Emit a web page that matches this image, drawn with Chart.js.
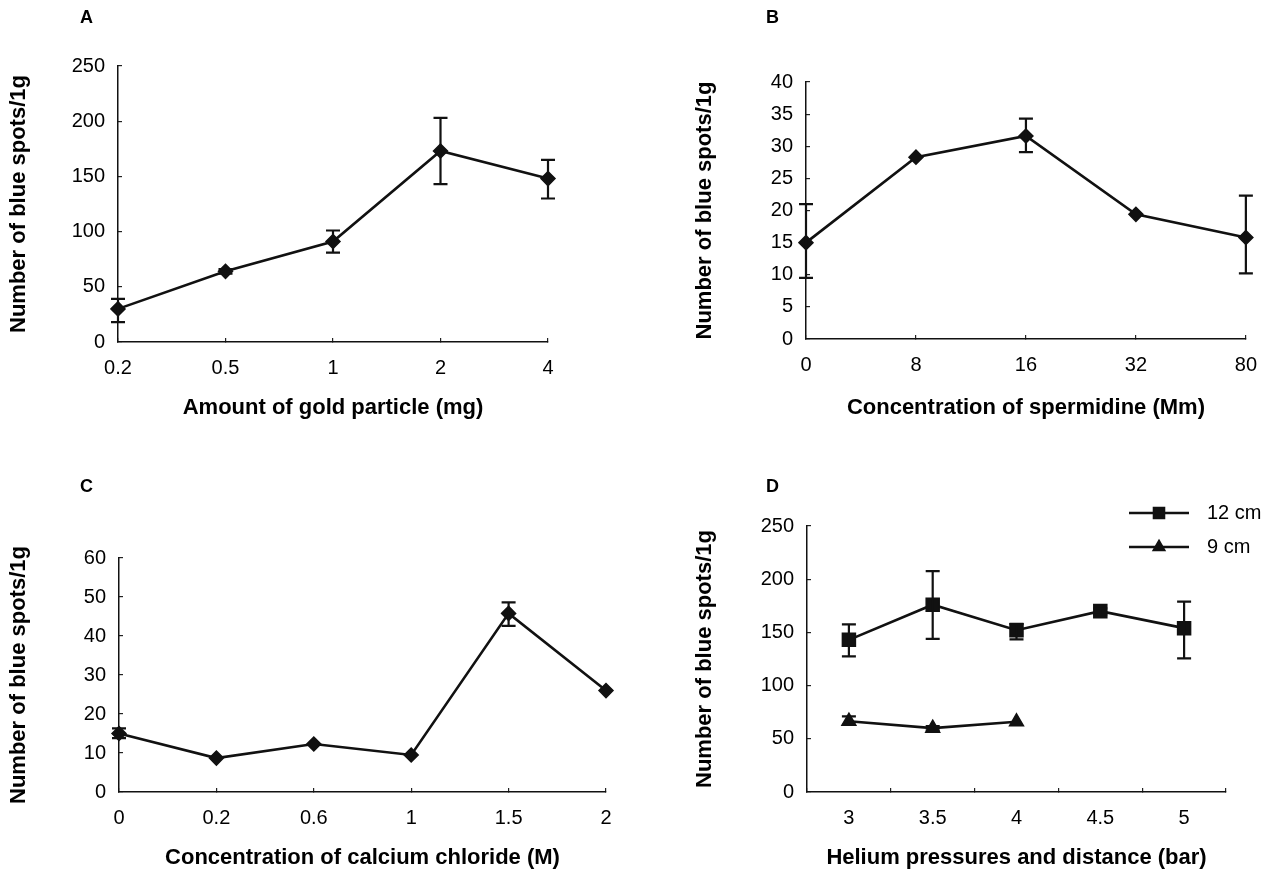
<!DOCTYPE html>
<html>
<head>
<meta charset="utf-8">
<script src="https://cdn.jsdelivr.net/npm/chart.js@4.4.1/dist/chart.umd.min.js"></script>
<style>
  body { margin: 0; background: #fff; }
  canvas { position: absolute; }
</style>
</head>
<body>
<canvas id="chartA" width="640" height="435" style="left:0;top:0"></canvas>
<canvas id="chartB" width="635" height="435" style="left:640px;top:0"></canvas>
<canvas id="chartC" width="640" height="436" style="left:0;top:440px"></canvas>
<canvas id="chartD" width="635" height="436" style="left:640px;top:440px"></canvas>
<script>
// A - gold particle amount
const goldLabels = ['0.2', '0.5', '1', '2', '4'];
const goldSpots = [30, 64, 91, 173, 148];
const goldErrLow = [18, 62, 81, 143, 130];
const goldErrHigh = [39, 66, 101, 203, 165];

// B - spermidine
const spermLabels = ['0', '8', '16', '32', '80'];
const spermSpots = [15, 28.3, 31.6, 19.4, 15.8];
const spermErrLow = [9.5, null, 29.1, null, 10.2];
const spermErrHigh = [21, null, 34.3, null, 22.3];

// C - calcium chloride
const cacl2Labels = ['0', '0.2', '0.6', '1', '1.5', '2'];
const cacl2Spots = [15, 8.7, 12.3, 9.5, 45.8, 26];
const cacl2ErrLow = [13.8, null, null, null, 42.6, null];
const cacl2ErrHigh = [16.3, null, null, null, 48.6, null];

// D - helium pressure, two distances
const heliumLabels = ['3', '3.5', '4', '4.5', '5'];
const spots12cm = [143, 176, 152, 170, 154];
const err12cmLow = [127.5, 144, 143.5, 167, 125.5];
const err12cmHigh = [157.5, 207.5, 158, 172.5, 179];
const spots9cm = [66.5, 60, 66];
const err9cmLow = [63, 58, null];
const err9cmHigh = [71, 62, null];

const FONT = '"Liberation Sans", Arial, Helvetica, sans-serif';
Chart.defaults.font.family = FONT;
Chart.defaults.color = '#000';

const errorBars = {
  id: 'errorBars',
  afterDatasetsDraw(chart) {
    const ctx = chart.ctx, ys = chart.scales.y;
    chart.data.datasets.forEach((ds, di) => {
      if (!ds.errLow) return;
      const meta = chart.getDatasetMeta(di);
      ctx.save();
      ctx.strokeStyle = '#111';
      ctx.lineWidth = 2.2;
      meta.data.forEach((pt, i) => {
        const lo = ds.errLow[i], hi = ds.errHigh[i];
        if (lo == null || hi == null) return;
        const yl = ys.getPixelForValue(lo), yh = ys.getPixelForValue(hi);
        ctx.beginPath();
        ctx.moveTo(pt.x, yl); ctx.lineTo(pt.x, yh);
        ctx.moveTo(pt.x - 7, yl); ctx.lineTo(pt.x + 7, yl);
        ctx.moveTo(pt.x - 7, yh); ctx.lineTo(pt.x + 7, yh);
        ctx.stroke();
      });
      ctx.restore();
    });
  }
};

const panelLetter = {
  id: 'panelLetter',
  afterDraw(chart, args, opts) {
    if (!opts || !opts.text) return;
    const ctx = chart.ctx;
    ctx.save();
    ctx.font = 'bold 18px ' + FONT;
    ctx.fillStyle = '#000';
    ctx.textBaseline = 'middle';
    ctx.fillText(opts.text, opts.x, opts.y);
    ctx.restore();
  }
};

// line + marker key, like the original figure
const seriesKey = {
  id: 'seriesKey',
  afterDraw(chart, args, opts) {
    if (!opts || !opts.show) return;
    const ctx = chart.ctx, a = chart.chartArea;
    chart.data.datasets.forEach((ds, i) => {
      const y = a.top + opts.rowY[i];
      const x0 = a.right + opts.lineX0, x1 = a.right + opts.lineX1;
      ctx.save();
      ctx.strokeStyle = ds.borderColor;
      ctx.lineWidth = ds.borderWidth;
      ctx.beginPath(); ctx.moveTo(x0, y); ctx.lineTo(x1, y); ctx.stroke();
      ctx.fillStyle = ds.pointBackgroundColor;
      ctx.strokeStyle = ds.pointBorderColor;
      ctx.lineWidth = ds.pointBorderWidth;
      Chart.helpers.drawPoint(ctx, {pointStyle: ds.pointStyle, radius: ds.pointRadius * 0.85, rotation: 0, borderWidth: ds.pointBorderWidth}, (x0 + x1) / 2, y);
      ctx.font = '20px ' + FONT;
      ctx.fillStyle = '#000';
      ctx.textBaseline = 'middle';
      ctx.textAlign = 'left';
      ctx.fillText(ds.label, a.right + opts.textX, y);
      ctx.restore();
    });
  }
};

Chart.register(errorBars, panelLetter, seriesKey);

function series(label, values, lo, hi, style, radius) {
  return {
    label: label, data: values, errLow: lo, errHigh: hi,
    borderColor: '#111', borderWidth: 2.6, tension: 0, clip: false,
    pointStyle: style, pointRadius: radius, pointBackgroundColor: '#111',
    pointBorderColor: '#111', pointBorderWidth: 1.5
  };
}

function panel(id, labels, datasets, yMax, yStep, xTitle, box, extra) {
  const W = box.w, H = box.h;
  return new Chart(document.getElementById(id), {
    type: 'line',
    data: { labels: labels, datasets: datasets },
    options: {
      responsive: false,
      animation: false,
      events: [],
      layout: { padding: { left: 0, top: box.top, right: W - box.right, bottom: 0 } },
      plugins: {
        legend: { display: false },
        tooltip: { enabled: false },
        panelLetter: { text: box.letter, x: box.letterX, y: box.letterY },
        seriesKey: extra || { show: false }
      },
      scales: {
        x: {
          type: 'category',
          offset: box.offset,
          grid: { drawOnChartArea: false, offset: box.offset, tickLength: -4, color: '#222', lineWidth: 1.2 },
          border: { display: true, color: '#111', width: 1.5 },
          ticks: { font: { size: 20 }, padding: 18, maxRotation: 0, autoSkip: false },
          title: { display: true, text: xTitle, font: { size: 22, weight: 'bold' }, padding: { bottom: box.xTitlePad, top: 0 } },
          afterFit: s => { s.height = H - box.bottom; }
        },
        y: {
          min: 0, max: yMax,
          grid: { drawOnChartArea: false, tickLength: -4, color: '#222', lineWidth: 1.2 },
          border: { display: true, color: '#111', width: 1.5 },
          ticks: { stepSize: yStep, font: { size: 20 }, padding: 17 },
          title: { display: true, text: 'Number of blue spots/1g', font: { size: 22, weight: 'bold' }, padding: { top: box.yTitlePad, bottom: 0 } },
          afterFit: s => { s.width = box.left; }
        }
      }
    }
  });
}

panel('chartA', goldLabels,
  [series('A', goldSpots, goldErrLow, goldErrHigh, 'rectRot', 7)],
  250, 50, 'Amount of gold particle (mg)',
  { w: 640, h: 435, left: 118, top: 66, right: 548, bottom: 342, yTitlePad: 6, xTitlePad: 14, letter: 'A', letterX: 80, letterY: 18, offset: false });

panel('chartB', spermLabels,
  [series('B', spermSpots, spermErrLow, spermErrHigh, 'rectRot', 7)],
  40, 5, 'Concentration of spermidine (Mm)',
  { w: 635, h: 435, left: 166, top: 82, right: 620, bottom: 339, yTitlePad: 52, xTitlePad: 14, letter: 'B', letterX: 126, letterY: 18, offset: false });

panel('chartC', cacl2Labels,
  [series('C', cacl2Spots, cacl2ErrLow, cacl2ErrHigh, 'rectRot', 7)],
  60, 10, 'Concentration of calcium chloride (M)',
  { w: 640, h: 436, left: 119, top: 118, right: 606, bottom: 352, yTitlePad: 6, xTitlePad: 5, letter: 'C', letterX: 80, letterY: 47, offset: false });

panel('chartD', heliumLabels,
  [series('12 cm', spots12cm, err12cmLow, err12cmHigh, 'rect', 9.2),
   series('9 cm', spots9cm, err9cmLow, err9cmHigh, 'triangle', 8)],
  250, 50, 'Helium pressures and distance (bar)',
  { w: 635, h: 436, left: 167, top: 86, right: 586, bottom: 352, yTitlePad: 52, xTitlePad: 5, letter: 'D', letterX: 126, letterY: 47, offset: true },
  { show: true, rowY: [-13, 21], lineX0: -97, lineX1: -37, textX: -19 });
</script>
</body>
</html>
